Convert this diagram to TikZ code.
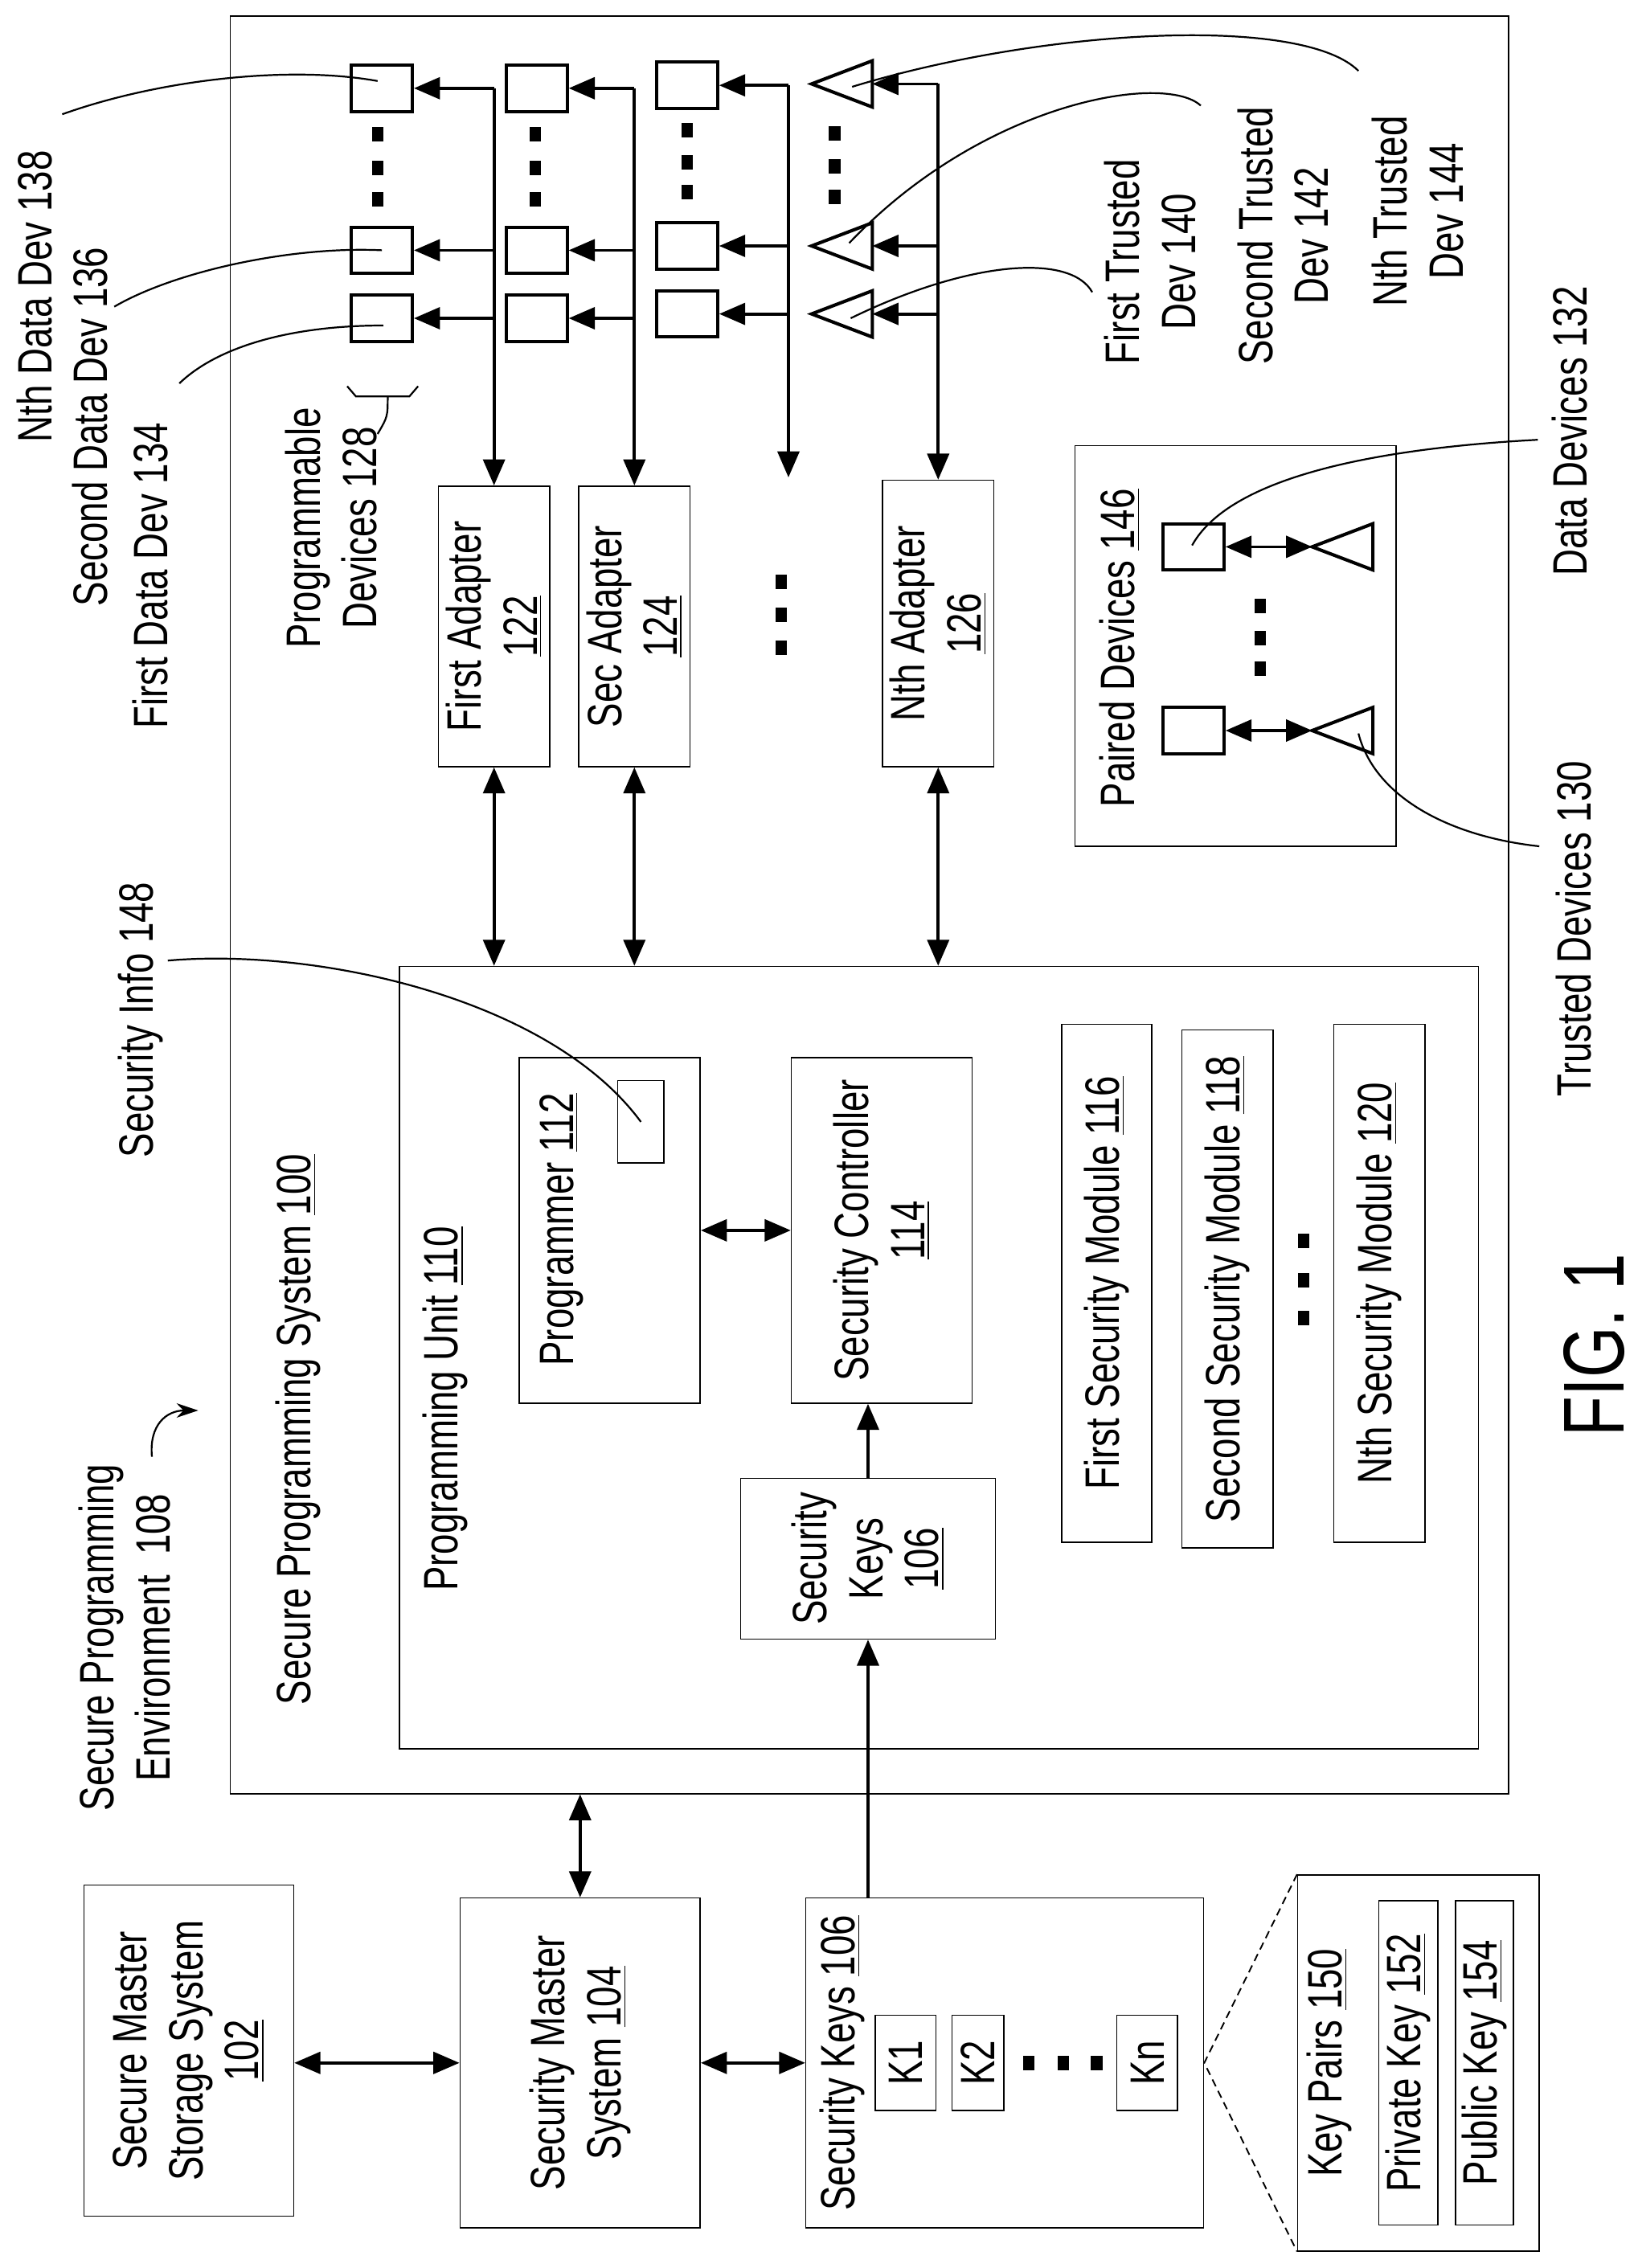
\documentclass[tikz,border=0pt]{standalone}
\usepackage{fontspec}
\setmainfont{Liberation Sans}[FakeStretch=0.76]
\usetikzlibrary{positioning,arrows.meta}
\newcommand\fs{\fontsize{19}{22}\selectfont}
\newcommand\sqdot[2]{\fill (#1-4,#2-5) rectangle (#1+4,#2+5);}
\newcommand\trdev[3]{%
  \draw[line width=1.3pt,line join=miter] (#2-21,#3) -- (#2+21,#3-16) -- (#2+21,#3+16) -- cycle;
  \coordinate (#1) at (#2+21,#3);}
\tikzset{
  box/.style={draw, line width=0.5pt, rotate=90, inner sep=0pt, align=center, font=\fs},
  lbl/.style={rotate=90, inner sep=0pt, align=center, font=\fs},
  dsq/.style={draw, line width=1.3pt, minimum width=0.84cm, minimum height=0.64cm, inner sep=0pt},
  arr/.style={-{Triangle[length=0.36cm,width=0.3cm]}, line width=1.2pt},
  dbl/.style={{Triangle[length=0.36cm,width=0.3cm]}-{Triangle[length=0.36cm,width=0.3cm]}, line width=1.2pt},
  lead/.style={line width=0.7pt}
}
\begin{document}
\begin{tikzpicture}[x=0.02cm,y=-0.02cm]
\useasboundingbox (0,0) rectangle (1132.2,1567.8);
%
\node[box, minimum width=24.58cm, minimum height=17.68cm] (sps) at (601,625.5) {};
\node[lbl] (spsl) at (206,988) {Secure Programming System \underline{100}};
\node[box, minimum width=10.82cm, minimum height=14.92cm] (pu) at (649,938.5) {};
\node[lbl] (pul) at (308,974) {Programming Unit \underline{110}};
\node[box, minimum width=4.78cm, minimum height=2.5cm] (prog) at (421.5,850.5) {};
\node[lbl] (progl) at (388,850) {Programmer \underline{112}};
\node[box, minimum width=1.14cm, minimum height=0.64cm] (info) at (443,775.5) {};
\node[box, minimum width=4.78cm, minimum height=2.5cm] (ctrl) at (609.5,850.5) {Security Controller\\\underline{114}};
\node[box, minimum width=2.22cm, minimum height=3.52cm] (key) at (600,1077.5) {Security\\Keys\\\underline{106}};
\node[box, minimum width=7.16cm, minimum height=1.24cm] (m1) at (765,887) {First Security Module \underline{116}};
\node[box, minimum width=7.16cm, minimum height=1.26cm] (m2) at (848.5,891) {Second Security Module \underline{118}};
\node[box, minimum width=7.16cm, minimum height=1.26cm] (m3) at (953.5,887) {Nth Security Module \underline{120}};
\sqdot{901}{858} \sqdot{901}{885} \sqdot{901}{911}
%
\node[box, minimum width=3.88cm, minimum height=1.54cm] (a1) at (341.5,433) {First Adapter\\\underline{122}};
\node[box, minimum width=3.88cm, minimum height=1.54cm] (a2) at (438.5,433) {Sec Adapter\\\underline{124}};
\node[box, minimum width=3.96cm, minimum height=1.54cm] (a4) at (648.5,431) {Nth Adapter\\\underline{126}};
\sqdot{540}{402} \sqdot{540}{425} \sqdot{540}{448}
%
% programmable devices
\node[dsq] (d1a) at (264,61) {};
\node[dsq] (d1b) at (264,173) {};
\node[dsq] (d1c) at (264,220) {};
\node[dsq] (d2a) at (371,61) {};
\node[dsq] (d2b) at (371,173) {};
\node[dsq] (d2c) at (371,220) {};
\node[dsq] (d3a) at (475,59) {};
\node[dsq] (d3b) at (475,170) {};
\node[dsq] (d3c) at (475,217) {};
\trdev{t4a}{582}{58} \trdev{t4b}{582}{170} \trdev{t4c}{582}{217}
\coordinate (c3end) at (545,330);
\sqdot{261}{93} \sqdot{261}{116} \sqdot{261}{138}
\sqdot{370}{93} \sqdot{370}{116} \sqdot{370}{138}
\sqdot{475}{90} \sqdot{475}{112} \sqdot{475}{133}
\sqdot{577}{92} \sqdot{577}{115} \sqdot{577}{136}
%
\draw[arr] (d1a.east -| a1.east) -- (a1.east);
\draw[arr] (d1a.east -| a1.east) -- (d1a.east);
\draw[arr] (d1b.east -| a1.east) -- (d1b.east);
\draw[arr] (d1c.east -| a1.east) -- (d1c.east);
\draw[arr] (d2a.east -| a2.east) -- (a2.east);
\draw[arr] (d2a.east -| a2.east) -- (d2a.east);
\draw[arr] (d2b.east -| a2.east) -- (d2b.east);
\draw[arr] (d2c.east -| a2.east) -- (d2c.east);
\draw[arr] (d3a.east -| c3end) -- (c3end);
\draw[arr] (d3a.east -| c3end) -- (d3a.east);
\draw[arr] (d3b.east -| c3end) -- (d3b.east);
\draw[arr] (d3c.east -| c3end) -- (d3c.east);
\draw[arr] (t4a -| a4.east) -- (a4.east);
\draw[arr] (t4a -| a4.east) -- (t4a);
\draw[arr] (t4b -| a4.east) -- (t4b);
\draw[arr] (t4c -| a4.east) -- (t4c);
%
\draw[dbl] (a1.west) -- (a1.west |- pu.east);
\draw[dbl] (a2.west) -- (a2.west |- pu.east);
\draw[dbl] (a4.west) -- (a4.west |- pu.east);
\draw[dbl] (prog.south) -- (ctrl.north);
\draw[arr] (key.east) -- (key.east |- ctrl.west);
%
% paired devices
\node[box, minimum width=5.54cm, minimum height=4.44cm] (paired) at (854,446.5) {};
\node[lbl] (pairedl) at (774,448) {Paired Devices \underline{146}};
\node[dsq] (p1) at (825,378) {};
\node[dsq] (p2) at (825,505) {};
\trdev{pt1}{928}{378} \trdev{pt2}{928}{505}
\coordinate (pt1a) at (907,378);
\coordinate (pt2a) at (907,505);
\draw[dbl] (p1.east) -- (pt1a);
\draw[dbl] (p2.east) -- (pt2a);
\sqdot{871}{419} \sqdot{871}{441} \sqdot{871}{462}
%
% master side
\node[box, minimum width=4.58cm, minimum height=2.9cm] (stor) at (130.5,1417.5) {Secure Master\\Storage System\\\underline{102}};
\node[box, minimum width=4.56cm, minimum height=3.32cm] (msys) at (401,1426) {Security Master\\System \underline{104}};
\node[box, minimum width=4.56cm, minimum height=5.5cm] (keys) at (694.5,1426) {};
\node[lbl] (keysl) at (582,1426) {Security Keys \underline{106}};
\node[box, minimum width=1.32cm, minimum height=0.84cm] (k1) at (626,1426) {K1};
\node[box, minimum width=1.32cm, minimum height=0.72cm] (k2) at (676,1426) {K2};
\node[box, minimum width=1.32cm, minimum height=0.84cm] (kn) at (793,1426) {Kn};
\sqdot{711}{1426} \sqdot{735}{1426} \sqdot{758}{1426}
\node[box, minimum width=5.2cm, minimum height=3.34cm] (kp) at (980.5,1426) {};
\node[lbl] (kpl) at (919,1426) {Key Pairs \underline{150}};
\node[box, minimum width=4.48cm, minimum height=0.82cm] (priv) at (973.5,1426) {Private Key \underline{152}};
\node[box, minimum width=4.48cm, minimum height=0.8cm] (pub) at (1026,1426) {Public Key \underline{154}};
\draw[dashed, line width=0.6pt, dash pattern=on 3pt off 2pt] (kp.north east) -- (keys.south) -- (kp.north west);
%
\draw[dbl] (msys.north -| stor.south) -- (msys.north);
\draw[dbl] (msys.south) -- (keys.north);
\draw[dbl] (msys.east) -- (msys.east |- sps.west);
\draw[arr] (key.west |- keys.east) -- (key.west);
%
% labels and leaders
\node[lbl] (n138) at (24,205) {Nth Data Dev 138};
\node[lbl] (n136) at (62,295) {Second Data Dev 136};
\node[lbl] (n134) at (104,398) {First Data Dev 134};
\node[lbl] (n128) at (229,365) {Programmable\\Devices 128};
\coordinate (l138) at (43,79);
\coordinate (l136) at (79,212);
\coordinate (l134) at (124,265);
\draw[lead] (l138) .. controls (110,55) and (200,45) .. (261,56);
\draw[lead] (l136) .. controls (120,188) and (200,170) .. (264,173);
\draw[lead] (l134) .. controls (150,240) and (200,225) .. (265,225);
\draw[lead] (240,267) -- (246,274) -- (283,274) -- (289,267);
\draw[lead] (268,274) .. controls (268,288) .. (261,300);
%
\node[lbl] (n140) at (795,181) {First Trusted\\Dev 140};
\node[lbl] (n142) at (887,163) {Second Trusted\\Dev 142};
\node[lbl] (n144) at (980,146) {Nth Trusted\\Dev 144};
\coordinate (l140) at (755,202);
\coordinate (l142) at (830,73);
\coordinate (l144) at (939,49);
\draw[lead] (l144) .. controls (900,10) and (720,20) .. (589,60);
\draw[lead] (l142) .. controls (805,50) and (680,70) .. (587,168);
\draw[lead] (l140) .. controls (740,175) and (670,180) .. (588,220);
%
\node[lbl] (n132) at (1085,298) {Data Devices 132};
\node[lbl] (n130) at (1088,642) {Trusted Devices 130};
\coordinate (l132) at (1063,304);
\coordinate (l130) at (1064,585);
\draw[lead] (l132) .. controls (950,310) and (850,330) .. (824,377);
\draw[lead] (l130) .. controls (1000,578) and (950,550) .. (939,507);
%
\node[lbl] (n148) at (97,705) {Security Info 148};
\coordinate (l148) at (116,664);
\draw[lead] (l148) .. controls (220,655) and (380,690) .. (info.center);
%
\node[lbl] (n108) at (86,1132) {Secure Programming\\Environment\ \ 108};
\coordinate (l108) at (105,1007);
\draw[lead, -{Stealth[length=0.3cm,width=0.2cm]}] (l108) .. controls (103,985) and (115,975) .. (137,975);
%
\node[rotate=90, font=\fontsize{34}{40}\selectfont] (fig) at (1102,930) {FIG. 1};
\end{tikzpicture}
\end{document}
